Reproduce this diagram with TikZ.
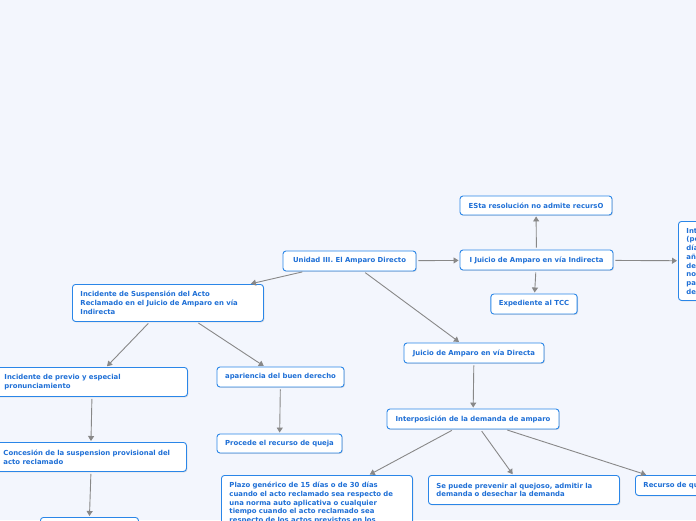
\documentclass[tikz,border=0pt]{standalone}
\usepackage{fontspec}
\newfontfamily\nodefont{DejaVu Sans}
\usetikzlibrary{shadows,arrows.meta}
\definecolor{bgc}{HTML}{F3F6FD}
\definecolor{bordc}{HTML}{2A86E8}
\definecolor{txtc}{HTML}{1E6FD6}
\definecolor{linec}{HTML}{888888}
\tikzset{
  base/.style={draw=bordc, fill=white, rounded corners=3pt, line width=0.9pt,
    text=txtc, font={\nodefont\bfseries\fontsize{6.9}{8.7}\selectfont},
    drop shadow={shadow xshift=0.9pt, shadow yshift=-0.9pt, opacity=0.25},
    inner xsep=8pt, inner ysep=2pt},
  single/.style={base, align=center},
  multi/.style={base, anchor=north west, align=left},
  conn/.style={draw=linec, line width=0.9pt, shorten <=2pt, shorten >=1pt,
    -{Triangle[width=6pt,length=5pt]}}
}
\begin{document}
\begin{tikzpicture}[x=1pt,y=-1pt]
\useasboundingbox (0,0) rectangle (696,520);
\clip (0,0) rectangle (696,520);
\fill[bgc] (0,0) rectangle (696,520);

\node[single, minimum width=133pt, minimum height=20pt] (unidad) at (349.5,261) {Unidad III. El Amparo Directo};
\node[single, minimum width=153pt, minimum height=20pt] (ind) at (536.5,260) {I Juicio de Amparo en vía Indirecta};
\node[single, minimum width=152pt, minimum height=19pt] (esta) at (536,205.5) {ESta resolución no admite recursO};
\node[single, minimum width=86pt, minimum height=20pt] (exped) at (534,304) {Expediente al TCC};
\node[multi, text width=64pt, minimum height=79pt] (right) at (678,221) {Interposición\\(periodo\\días\\años\\del\\notificación\\para\\de};
\node[multi, text width=175pt, minimum height=37pt] (susp) at (72,284) {Incidente de Suspensión del Acto\\Reclamado en el Juicio de Amparo en vía\\Indirecta};
\node[single, minimum width=140pt, minimum height=20pt] (directa) at (474,353) {Juicio de Amparo en vía Directa};
\node[multi, text width=175pt, minimum height=29pt] (previo) at (-4,367) {Incidente de previo y especial\\pronunciamiento};
\node[single, minimum width=127pt, minimum height=20pt] (apar) at (280.5,377) {apariencia del buen derecho};
\node[multi, text width=175pt, minimum height=29pt] (conces) at (-5,442) {Concesión de la suspension provisional del\\acto reclamado};
\node[single, minimum width=125pt, minimum height=19pt] (procede) at (279.5,443.5) {Procede el recurso de queja};
\node[single, minimum width=172pt, minimum height=20pt] (interp) at (473,419) {Interposición de la demanda de amparo};
\node[multi, text width=175pt, minimum height=55pt] (plazo) at (221,475) {Plazo genérico de 15 días o de 30 días\\cuando el acto reclamado sea respecto de\\una norma auto aplicativa o cualquier\\tiempo cuando el acto reclamado sea\\respecto de los actos previstos en los};
\node[multi, text width=175pt, minimum height=29pt] (sepuede) at (428,475) {Se puede prevenir al quejoso, admitir la\\demanda o desechar la demanda};
\node[multi, text width=72pt, minimum height=20pt] (recurso) at (635,475) {Recurso de queja};
\node[multi, minimum width=98pt, minimum height=20pt] (bleft) at (40,517) {};

\draw[conn] (unidad) -- (susp);
\draw[conn] (unidad) -- (ind);
\draw[conn] (unidad) -- (directa);
\draw[conn] (ind) -- (esta);
\draw[conn] (ind) -- (exped);
\draw[conn] (ind) -- (right);
\draw[conn] (susp) -- (previo);
\draw[conn] (susp) -- (apar);
\draw[conn] (previo.south) -- (conces.north);
\draw[conn] (conces.south) -- (bleft.north);
\draw[conn] (apar) -- (procede);
\draw[conn] (directa) -- (interp);
\draw[conn] (interp) -- (plazo);
\draw[conn] (interp) -- (sepuede);
\draw[conn] (interp) -- (recurso);
\end{tikzpicture}
\end{document}
